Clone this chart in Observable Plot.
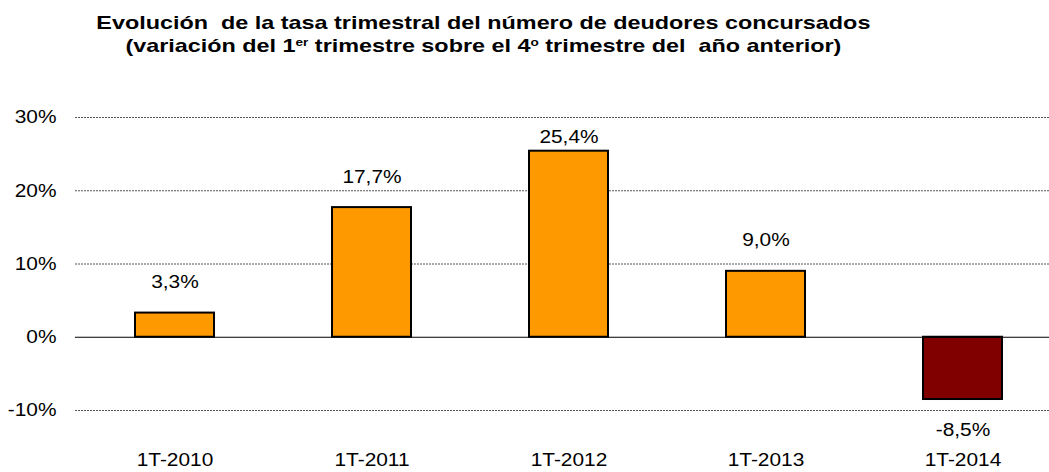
<!DOCTYPE html>
<html><head><meta charset="utf-8">
<script src="https://cdn.jsdelivr.net/npm/d3@7"></script>
<script src="https://cdn.jsdelivr.net/npm/@observablehq/plot@0.6"></script>
<style>
body{margin:0;background:#fff;font-family:"Liberation Sans",Arial,sans-serif;}
#title{position:relative;height:70px;width:1049px;overflow:hidden;}
#title div{position:absolute;left:0;width:786px;text-align:center;font-weight:bold;font-size:19px;white-space:pre;color:#000;transform:scaleX(1.23);transform-origin:0 0;}
sup{font-size:11px;vertical-align:6px;line-height:0;}
</style></head><body>
<div id="title"><div style="top:12px">Evolución  de la tasa trimestral del número de deudores concursados</div><div style="top:35px;">(variación del 1<sup>er</sup> trimestre sobre el 4<sup>o</sup> trimestre del  año anterior)</div></div>
<div id="chart"></div>
<script>
const categories = ["1T-2010","1T-2011","1T-2012","1T-2013","1T-2014"];
const values = [3.3, 17.7, 25.4, 9.0, -8.5];
const yTicks = [-10, 0, 10, 20, 30];
const data = categories.map((c,i)=>({cat:c, v:values[i]}));
const fmt = v => v.toFixed(1).replace(".", ",") + "%";
const fs = 18.5;
const H = 402, MT = 47, MB = 62, yMin = -10, yMax = 30;
const pxPerUnit = (H - MT - MB) / (yMax - yMin);
const gap = 31;                 // label offset from bar end, px
const topLimitPx = 20;          // labels kept at least this far below the plot top
const labelY = d => d.v >= 0
  ? Math.min(d.v + gap / pxPerUnit, yMax - topLimitPx / pxPerUnit)
  : d.v - gap / pxPerUnit;
const chart = Plot.plot({
  width: 1049, height: H,
  marginTop: MT, marginBottom: MB, marginLeft: 75, marginRight: 0,
  style: {fontFamily: '"Liberation Sans", Arial, sans-serif', fontSize: fs + "px", color: "#000", background: "#fff"},
  x: {type: "band", domain: categories, range: [75.5, 1060.5], paddingInner: 0.6, paddingOuter: 0.3, axis: null},
  y: {domain: [yMin, yMax], ticks: yTicks, axis: null},
  marks: [
    Plot.ruleY(yTicks.filter(t => t !== 0), {stroke: "#555", strokeWidth: 1, strokeDasharray: "2,1"}),
    Plot.axisY({ticks: yTicks, tickSize: 0, tickPadding: 19, tickFormat: d => d + "%", fontSize: fs, label: null}),
    Plot.barY(data, {x: "cat", y: "v", fill: d => d.v < 0 ? "#800000" : "#FF9900", stroke: "#000", strokeWidth: 2}),
    Plot.ruleY([0], {stroke: "#000", strokeWidth: 1}),
    Plot.text(data, {x: "cat", y: labelY, text: d => fmt(d.v), fontSize: fs, fill: "#000"}),
    Plot.text(categories, {x: d => d, frameAnchor: "bottom", dy: 55, fontSize: fs, fill: "#000"})
  ]
});
// horizontally stretch text like the reference (wide rendering)
d3.select(chart).selectAll("text").each(function() {
  const t = this.getAttribute("transform") || "";
  this.setAttribute("transform", t + " scale(1.13,1)");
  const x = this.getAttribute("x");
  if (x) this.setAttribute("x", +x / 1.13);
});
document.getElementById("chart").appendChild(chart);
</script>
</body></html>
